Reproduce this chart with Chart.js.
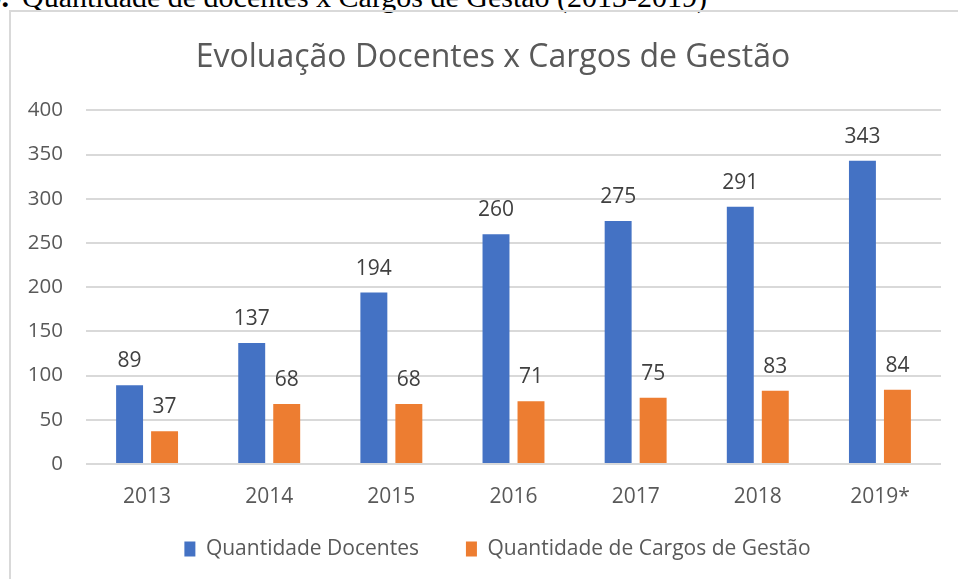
<!DOCTYPE html>
<html>
<head>
<meta charset="utf-8">
<script src="https://cdn.jsdelivr.net/npm/chart.js@4"></script>
<style>
  html, body { margin: 0; padding: 0; background: #fff; overflow: hidden; }
  body { width: 958px; height: 579px; position: relative; }
  .caption { position: absolute; top: -18px; left: 22px; font: 30px/30px "Liberation Serif", "Times New Roman", serif; color: #000; white-space: nowrap; }
  .caption-num { position: absolute; top: -18px; right: 949px; font: bold 30px/30px "Liberation Serif", "Times New Roman", serif; color: #000; white-space: nowrap; }
  .frame { position: absolute; left: 9px; top: 10px; width: 2000px; height: 2000px; border: 2px solid #d9d9d9; }
  #chart { position: absolute; left: 0; top: 0; }
</style>
</head>
<body>
<div class="caption-num">Gráfico 9.</div>
<div class="caption">Quantidade de docentes x Cargos de Gestão (2013-2019)</div>
<div class="frame"></div>
<canvas id="chart" width="958" height="579"></canvas>
<script>
const years = ['2013', '2014', '2015', '2016', '2017', '2018', '2019*'];
const docentes = [89, 137, 194, 260, 275, 291, 343];
const cargos = [37, 68, 68, 71, 75, 83, 84];
const yTicks = [0, 50, 100, 150, 200, 250, 300, 350, 400];

const FONT = '"Open Sans", "Noto Sans", sans-serif';

// numbers above the bars
const valueLabels = {
    id: 'valueLabels',
    afterDatasetsDraw(chart) {
        const ctx = chart.ctx;
        ctx.save();
        ctx.font = '21px ' + FONT;
        ctx.fillStyle = '#404040';
        ctx.textAlign = 'center';
        ctx.textBaseline = 'alphabetic';
        chart.data.datasets.forEach((ds, i) => {
            chart.getDatasetMeta(i).data.forEach((bar, j) => {
                ctx.fillText(ds.data[j], bar.x, bar.y - 18);
            });
        });
        ctx.restore();
    }
};

// nudge title and legend to where the original has them
const placeBoxes = {
    id: 'placeBoxes',
    afterLayout(chart) {
        chart.titleBlock.left += 45;
        chart.legend.left += 54;
        chart.legend.top = 549 - 47 - 10.5;
    }
};

new Chart(document.getElementById('chart'), {
    type: 'bar',
    data: {
        labels: years,
        datasets: [{
            label: 'Quantidade Docentes',
            data: docentes,
            backgroundColor: '#4472c4',
            categoryPercentage: 0.573,
            barPercentage: 0.77
        }, {
            label: 'Quantidade de Cargos de Gestão',
            data: cargos,
            backgroundColor: '#ed7d31',
            categoryPercentage: 0.573,
            barPercentage: 0.77
        }]
    },
    options: {
        responsive: false,
        animation: false,
        layout: { padding: { left: 0, right: 17, top: 0, bottom: 9 } },
        scales: {
            x: {
                grid: { display: false, drawTicks: false },
                border: { display: false },
                ticks: { padding: 20, color: '#595959', font: { family: FONT, size: 21 } },
                afterFit(s) { s.height = 46; }
            },
            y: {
                min: 0,
                max: 400,
                afterBuildTicks(s) { s.ticks = yTicks.map(v => ({ value: v })); },
                grid: { color: '#d9d9d9', lineWidth: 2, drawTicks: false },
                border: { display: false },
                ticks: { padding: 23, color: '#595959', font: { family: FONT, size: 20.5 } },
                afterFit(s) { s.width = 86; }
            }
        },
        plugins: {
            title: {
                display: true,
                text: 'Evoluação Docentes x Cargos de Gestão',
                color: '#595959',
                font: { family: FONT, size: 32, weight: 'normal', lineHeight: 1.2 },
                padding: { top: 39, bottom: 33 }
            },
            legend: {
                position: 'bottom',
                maxHeight: 60,
                labels: {
                    boxWidth: 11,
                    boxHeight: 15,
                    padding: 47,
                    color: '#595959',
                    font: { family: FONT, size: 21 }
                }
            },
            tooltip: { enabled: false }
        }
    },
    plugins: [valueLabels, placeBoxes]
});
</script>
</body>
</html>
